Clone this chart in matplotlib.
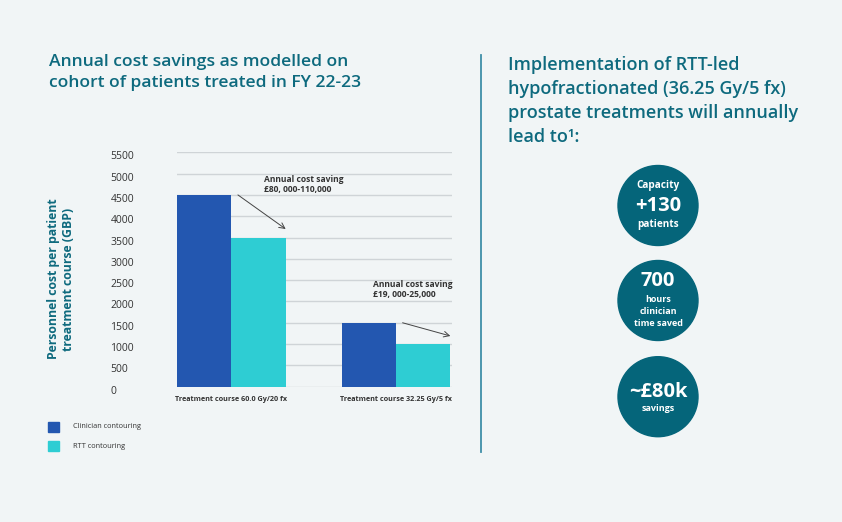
import matplotlib
matplotlib.use("Agg")
import matplotlib.pyplot as plt
from matplotlib.patches import Circle, Rectangle
from matplotlib.transforms import ScaledTranslation
import numpy as np

plt.rcParams['font.family'] = ['Open Sans', 'DejaVu Sans']

# ---- data ----
categories = ["Treatment course 60.0 Gy/20 fx", "Treatment course 32.25 Gy/5 fx"]
series_names = ["Clinician contouring", "RTT contouring"]
clinician = [4500, 1500]
rtt = [3500, 1000]
yticks = [0, 500, 1000, 1500, 2000, 2500, 3000, 3500, 4000, 4500, 5000, 5500]
savings_labels = ["Annual cost saving\n£80, 000-110,000", "Annual cost saving\n£19, 000-25,000"]

left_title_lines = ["Annual cost savings as modelled on", "cohort of patients treated in FY 22-23"]
right_title_lines = ["Implementation of RTT-led", "hypofractionated (36.25 Gy/5 fx)",
                     "prostate treatments will annually", "lead to¹:"]
ylabel = "Personnel cost per patient\ntreatment course (GBP)"

BG = "#f1f5f6"
TEAL = "#0e6a7e"
BLUE = "#2357b0"
CYAN = "#2ecdd3"
CIRC = "#05657a"
GRID = "#cfd4d7"
DARK = "#333333"

W, H = 842, 522
fig = plt.figure(figsize=(W / 100, H / 100), dpi=100, facecolor=BG)

ov = fig.add_axes([0, 0, 1, 1], zorder=0)
ov.set_xlim(0, W)
ov.set_ylim(H, 0)
ov.axis("off")
ov.patch.set_alpha(0)

# ---- chart axes ----
x0, x1, ytop, ybot = 177, 452, 152.3, 386.7
ax = fig.add_axes([x0 / W, (H - ybot) / H, (x1 - x0) / W, (ybot - ytop) / H], zorder=1)
ax.set_facecolor("none")
x = np.arange(len(categories))
w = 0.33
ax.bar(x - w / 2, clinician, width=w, color=BLUE, zorder=2, label=series_names[0])
ax.bar(x + w / 2, rtt, width=w, color=CYAN, zorder=2, label=series_names[1])
ax.set_xlim(-0.33, 1.34)
ax.set_ylim(0, 5500)
ax.set_yticks(yticks)
ax.yaxis.grid(True, color=GRID, linewidth=1.0, zorder=1)
ax.set_axisbelow(True)
for s in ax.spines.values():
    s.set_visible(False)
ax.tick_params(axis="both", length=0)
ax.tick_params(axis="y", labelsize=7.5, labelcolor=DARK, pad=48)
off = ScaledTranslation(0, -3 / 100, fig.dpi_scale_trans)
for lab in ax.get_yticklabels():
    lab.set_horizontalalignment("left")
    lab.set_transform(lab.get_transform() + off)
ax.set_xticks(x)
ax.set_xticklabels(categories, fontsize=5.2, fontweight="bold", color=DARK)
ax.tick_params(axis="x", pad=7)

# savings annotations
arrow_ends = [3700, 1190]
text_pos = [(0.2, 4520), (0.86, 2050)]
for i in range(len(categories)):
    ax.annotate("", xy=(x[i] + w, arrow_ends[i]), xytext=(x[i] + 0.04, clinician[i]),
                arrowprops=dict(arrowstyle="->", color="#444444", lw=0.7, shrinkA=0, shrinkB=0),
                zorder=4)
    ax.text(text_pos[i][0], text_pos[i][1], savings_labels[i], fontsize=6.1, fontweight="bold",
            color=DARK, ha="left", va="bottom", linespacing=1.15, zorder=4)

# y label
ov.text(61.5, 279, ylabel, rotation=90, fontsize=8.8, fontweight="bold", color=TEAL,
        ha="center", va="center", linespacing=1.2, multialignment="center")

# legend (manual)
leg_colors = [BLUE, CYAN]
for i, name in enumerate(series_names):
    yy = 422 + i * 19
    ov.add_patch(Rectangle((48, yy), 11, 10, color=leg_colors[i]))
    ov.text(73, yy + 5, name, fontsize=5.3, color=DARK, ha="left", va="center")

# titles
for i, line in enumerate(left_title_lines):
    ov.text(49, 62 + i * 21, line, fontsize=12.6, fontweight="semibold", color=TEAL,
            ha="left", va="center")
for i, line in enumerate(right_title_lines):
    ov.text(508, 65 + i * 24, line, fontsize=13.0, fontweight="semibold", color=TEAL,
            ha="left", va="center")

# separator
ov.plot([480.5, 480.5], [55, 452], color="#3f8fa8", lw=1.3)

# circles
circles = [
    (205.5, [("Capacity", 7.2, -20), ("+130", 14.5, 0.5), ("patients", 7.2, 19.5)]),
    (300.5, [("700", 14.5, -19.5), ("hours", 6.5, -1.5), ("clinician", 6.5, 11.5), ("time saved", 6.5, 23.5)]),
    (396.7, [("~£80k", 14.5, -4.5), ("savings", 6.5, 11.5)]),
]
for cy, texts in circles:
    ov.add_patch(Circle((658, cy), 40, color=CIRC))
    for t, fs, dy in texts:
        ov.text(658, cy + dy, t, fontsize=fs, fontweight="bold", color="white",
                ha="center", va="center")

fig.savefig("out.png", dpi=100, facecolor=BG)
